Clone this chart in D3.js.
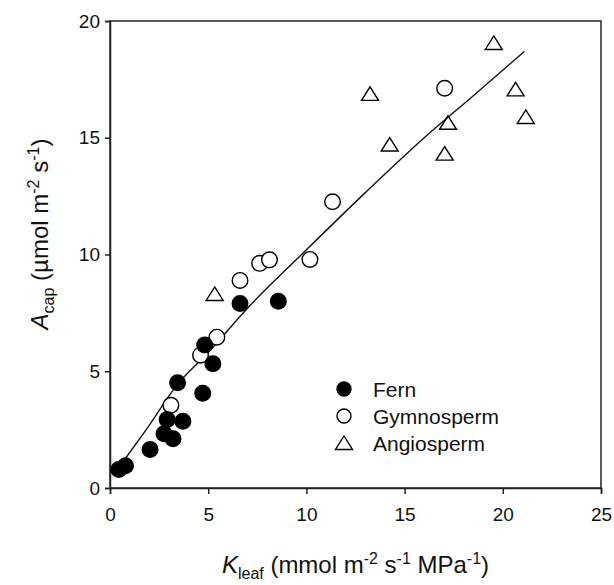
<!DOCTYPE html>
<html>
<head>
<meta charset="utf-8">
<script src="https://cdn.jsdelivr.net/npm/d3@7"></script>
<style>
  body { margin: 0; background: #fff; }
  svg text { font-family: "Liberation Sans", Arial, sans-serif; fill: #111; }
</style>
</head>
<body>
<div id="chart"></div>
<script>
// data: Kleaf (x) vs Acap (y)
const fernX = [6.62, 8.57, 4.82, 5.24, 3.44, 4.72, 2.91, 3.71, 2.75, 3.21, 2.04, 0.45, 0.79];
const fernY = [7.90, 8.00, 6.12, 5.32, 4.51, 4.06, 2.93, 2.86, 2.32, 2.11, 1.65, 0.79, 0.95];

const gymnoX = [17.04, 11.33, 10.18, 7.62, 8.12, 6.62, 5.44, 4.61, 3.10];
const gymnoY = [17.12, 12.26, 9.79, 9.62, 9.77, 8.89, 6.46, 5.69, 3.54];

const angioX = [19.54, 13.24, 20.65, 21.17, 17.21, 14.24, 17.04, 5.33];
const angioY = [19.06, 16.88, 17.07, 15.89, 15.64, 14.71, 14.32, 8.31];

// fitted curve, points
const fitX = [0.66, 1.8, 3.5, 5.0, 7.0, 10.0, 13.0, 16.0, 18.5, 21.1];
const fitY = [1.12, 2.45, 4.5, 5.8, 7.7, 10.2, 12.65, 15.0, 16.8, 18.7];

const xTicks = [0, 5, 10, 15, 20, 25];
const yTicks = [0, 5, 10, 15, 20];
const legendNames = ['Fern', 'Gymnosperm', 'Angiosperm'];

const width = 614, height = 585;
const margin = { top: 21, right: 13, bottom: 97, left: 110 };

const svg = d3.select('#chart').append('svg')
    .attr('width', width)
    .attr('height', height);

const x = d3.scaleLinear().domain([0, 25]).range([margin.left, width - margin.right]);
const y = d3.scaleLinear().domain([0, 20]).range([height - margin.bottom, margin.top]);

const axisColor = '#222';

// frame
svg.append('rect')
    .attr('x', x(0)).attr('y', y(20))
    .attr('width', x(25) - x(0)).attr('height', y(0) - y(20))
    .attr('fill', 'none').attr('stroke', axisColor).attr('stroke-width', 1.5);

const xAxis = svg.append('g')
    .attr('transform', `translate(0,${y(0)})`)
    .call(d3.axisBottom(x).tickValues(xTicks).tickSize(6).tickPadding(14));

const yAxis = svg.append('g')
    .attr('transform', `translate(${x(0)},0)`)
    .call(d3.axisLeft(y).tickValues(yTicks).tickSize(5).tickPadding(5));

[xAxis, yAxis].forEach(g => {
    g.select('.domain').attr('stroke', axisColor).attr('stroke-width', 1.5);
    g.selectAll('.tick line').attr('stroke', axisColor).attr('stroke-width', 1.5);
    g.selectAll('.tick text')
        .attr('font-size', '19px')
        .attr('font-family', '"Liberation Sans", Arial, sans-serif')
        .attr('fill', '#111');
});

// fitted line
const line = d3.line()
    .x(d => x(d[0]))
    .y(d => y(d[1]))
    .curve(d3.curveMonotoneX);

svg.append('path')
    .datum(d3.zip(fitX, fitY))
    .attr('d', line)
    .attr('fill', 'none')
    .attr('stroke', '#111')
    .attr('stroke-width', 1.4);

const r = 7.8;
const triPath = 'M0,-7 L8.5,6.5 L-8.5,6.5 Z';

function drawCircles(xs, ys, fill) {
    svg.append('g').selectAll('circle')
        .data(d3.zip(xs, ys))
        .join('circle')
        .attr('cx', d => x(d[0]))
        .attr('cy', d => y(d[1]))
        .attr('r', r)
        .attr('fill', fill)
        .attr('stroke', '#000')
        .attr('stroke-width', 1.4);
}

drawCircles(gymnoX, gymnoY, '#fff');
drawCircles(fernX, fernY, '#000');

svg.append('g').selectAll('path')
    .data(d3.zip(angioX, angioY))
    .join('path')
    .attr('d', triPath)
    .attr('transform', d => `translate(${x(d[0])},${y(d[1])})`)
    .attr('fill', 'none')
    .attr('stroke', '#000')
    .attr('stroke-width', 1.4);

// legend
const legend = svg.append('g').attr('transform', 'translate(344,389)');
legendNames.forEach((name, i) => {
    const row = legend.append('g').attr('transform', `translate(0,${i * 27})`);
    if (i === 2) {
        row.append('path').attr('d', triPath)
            .attr('fill', 'none').attr('stroke', '#000').attr('stroke-width', 1.4);
    } else {
        row.append('circle').attr('r', 7)
            .attr('fill', i === 0 ? '#000' : '#fff')
            .attr('stroke', '#000').attr('stroke-width', 1.4);
    }
    row.append('text')
        .attr('x', 29).attr('y', 7.5)
        .attr('font-size', '21px')
        .text(name);
});

// x axis title
const xt = svg.append('text')
    .attr('x', x(12.5)).attr('y', 573)
    .attr('text-anchor', 'middle')
    .attr('font-size', '24px');
xt.append('tspan').attr('font-style', 'italic').text('K');
xt.append('tspan').attr('font-size', '16px').attr('baseline-shift', '-6').text('leaf');
xt.append('tspan').text(' (mmol m');
xt.append('tspan').attr('font-size', '16px').attr('baseline-shift', '9').text('-2');
xt.append('tspan').text(' s');
xt.append('tspan').attr('font-size', '16px').attr('baseline-shift', '9').text('-1');
xt.append('tspan').text(' MPa');
xt.append('tspan').attr('font-size', '16px').attr('baseline-shift', '9').text('-1');
xt.append('tspan').text(')');

// y axis title
const yt = svg.append('text')
    .attr('transform', 'translate(48,234) rotate(-90)')
    .attr('text-anchor', 'middle')
    .attr('font-size', '24px');
yt.append('tspan').attr('font-style', 'italic').text('A');
yt.append('tspan').attr('font-size', '16px').attr('baseline-shift', '-6').text('cap');
yt.append('tspan').text(' (\u00b5mol m');
yt.append('tspan').attr('font-size', '16px').attr('baseline-shift', '9').text('-2');
yt.append('tspan').text(' s');
yt.append('tspan').attr('font-size', '16px').attr('baseline-shift', '9').text('-1');
yt.append('tspan').text(')');
</script>
</body>
</html>
